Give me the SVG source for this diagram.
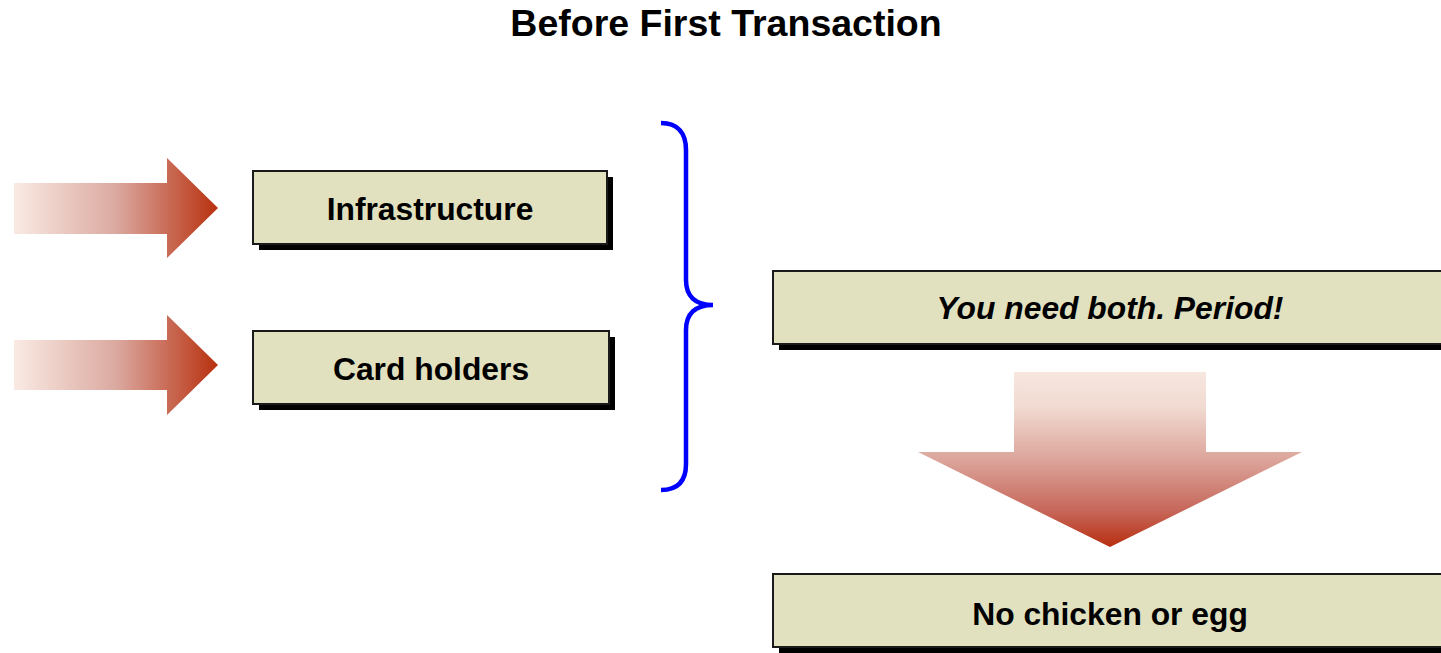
<svg xmlns="http://www.w3.org/2000/svg" width="1441" height="653" viewBox="0 0 1441 653">
  <style>
    .title { font-family: "Liberation Sans", Arial, sans-serif; font-weight: bold; font-size: 37.5px; fill: #000; }
    .label { font-family: "Liberation Sans", Arial, sans-serif; font-weight: bold; font-size: 31.8px; fill: #000; }
    .italic { font-style: italic; }
    .box { fill: #E1E0BF; stroke: #1a1a1a; stroke-width: 2; }
    .shadow { fill: #000; }
    .brace { fill: none; stroke: #0000FF; stroke-width: 4.5; }
  </style>
  <defs>
    <linearGradient id="fadeRight" x1="0" y1="0" x2="1" y2="0">
      <stop offset="0" stop-color="#F9EAE3"/>
      <stop offset="0.5" stop-color="#DBA9A0"/>
      <stop offset="1" stop-color="#B8300F"/>
    </linearGradient>
    <linearGradient id="fadeDown" x1="0" y1="0" x2="0" y2="1">
      <stop offset="0" stop-color="#F7E7DF"/>
      <stop offset="0.2" stop-color="#F1DAD1"/>
      <stop offset="0.5" stop-color="#DCA59B"/>
      <stop offset="0.8" stop-color="#C66558"/>
      <stop offset="1" stop-color="#B82E10"/>
    </linearGradient>
  </defs>

  <rect width="1441" height="653" fill="#fff"/>

  <text class="title" x="726" y="36" text-anchor="middle">Before First Transaction</text>

  <!-- incoming block arrows -->
  <g id="arrow-infrastructure">
    <path d="M14,183 H167 V158 L218,208 L167,258 V234 H14 Z" fill="url(#fadeRight)"/>
  </g>
  <g id="arrow-cardholders">
    <path d="M14,340 H167 V315 L218,365 L167,415 V390 H14 Z" fill="url(#fadeRight)"/>
  </g>

  <g id="node-infrastructure">
    <rect class="shadow" x="259" y="177" width="354" height="73"/>
    <rect class="box" x="253" y="171" width="354" height="73"/>
    <text class="label" x="430" y="220" text-anchor="middle">Infrastructure</text>
  </g>

  <g id="node-cardholders">
    <rect class="shadow" x="259" y="337" width="356" height="73"/>
    <rect class="box" x="253" y="331" width="356" height="73"/>
    <text class="label" x="431" y="380" text-anchor="middle">Card holders</text>
  </g>

  <!-- connectors: brace joining both inputs -->
  <g id="connectors">
    <path class="brace" d="M661,123 C678,123 686,133 686,150 L686,280 C686,296 695,305 713,305 C695,305 686,314 686,330 L686,464 C686,481 678,490 661,490"/>
  </g>

  <g id="node-needboth">
    <rect class="shadow" x="779" y="277" width="700" height="73"/>
    <rect class="box" x="773" y="271" width="700" height="73"/>
    <text class="label italic" x="1110" y="319" text-anchor="middle">You need both. Period!</text>
  </g>

  <g id="arrow-down">
    <path d="M1014,372 H1206 V452 H1302 L1110,547 L918,452 H1014 Z" fill="url(#fadeDown)"/>
  </g>

  <g id="node-nochicken">
    <rect class="shadow" x="779" y="580" width="700" height="73"/>
    <rect class="box" x="773" y="574" width="700" height="73"/>
    <text class="label" x="1110" y="625" text-anchor="middle">No chicken or egg</text>
  </g>
</svg>
